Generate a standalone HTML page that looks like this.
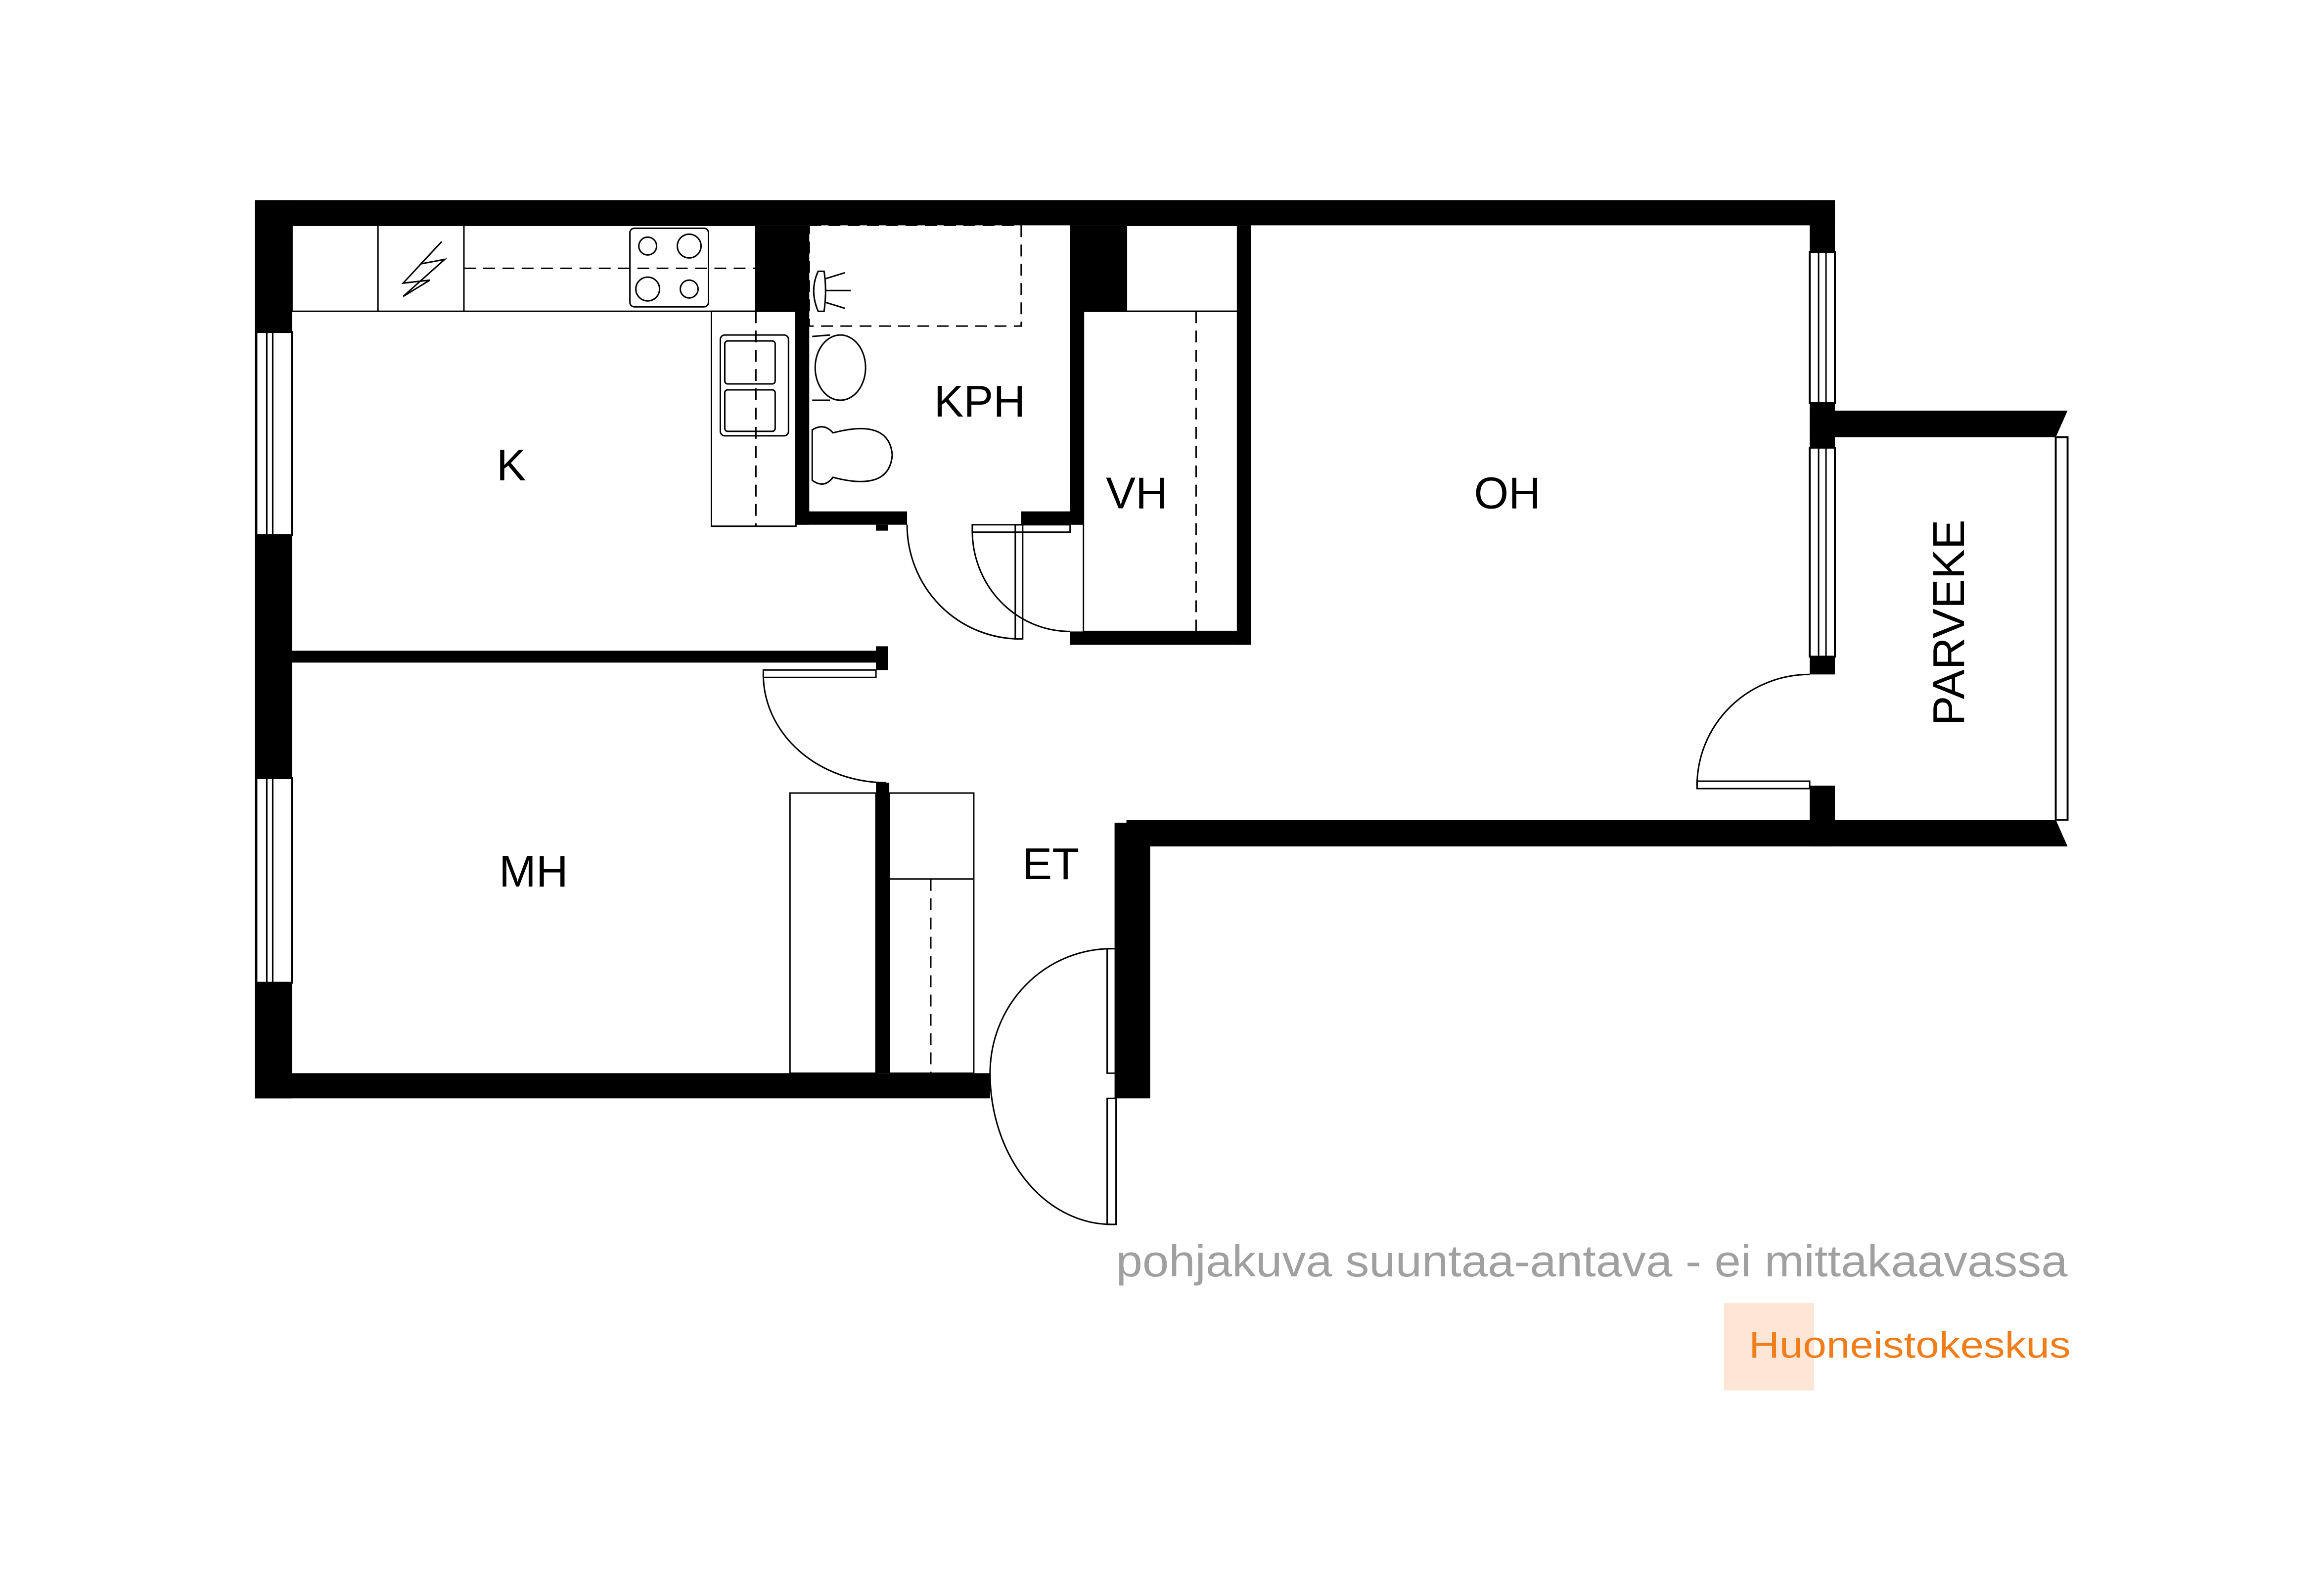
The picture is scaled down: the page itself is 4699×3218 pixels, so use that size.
<!DOCTYPE html>
<html><head><meta charset="utf-8"><style>
html,body{margin:0;padding:0;background:#fff;}
svg{display:block;}
text{font-family:"Liberation Sans",sans-serif;}
</style></head><body>
<svg width="4699" height="3218" viewBox="0 0 1568 1074" preserveAspectRatio="none" xmlns="http://www.w3.org/2000/svg">
<rect width="1568" height="1074" fill="#fff"/>
<g fill="#000">
<rect x="172" y="135" width="1066" height="17"/>
<rect x="172" y="135" width="25" height="606"/>
<rect x="172" y="724" width="496" height="17"/>
<rect x="1221" y="135" width="17" height="160"/>
<rect x="1221" y="295" width="17" height="160"/>
<rect x="1221" y="530" width="17" height="41"/>
<polygon points="1221,277 1395,277 1387,295 1221,295"/>
<polygon points="760,553 1387,553 1395,571 760,571"/>
<rect x="752" y="555" width="24" height="186"/>
<rect x="197" y="439" width="401" height="8"/>
<rect x="591" y="436" width="8" height="16"/>
<rect x="510" y="152" width="30" height="58"/>
<rect x="537" y="152" width="9" height="202"/>
<rect x="537" y="345" width="75" height="9"/>
<rect x="591" y="354" width="8" height="4"/>
<rect x="722" y="152" width="38" height="58"/>
<rect x="722" y="152" width="9" height="202"/>
<rect x="689" y="345" width="42" height="9"/>
<rect x="835" y="152" width="9" height="283"/>
<rect x="722" y="426" width="122" height="9"/>
<rect x="591" y="528" width="9" height="196"/>
</g>
<g fill="#fff" stroke="#000" stroke-width="1.3">
<rect x="173" y="224" width="24" height="137"/>
<rect x="173" y="525" width="24" height="138"/>
<rect x="1221" y="170" width="17" height="102"/>
<rect x="1221" y="302" width="17" height="141"/>
<rect x="1387" y="295" width="8" height="258"/>
</g>
<g stroke="#000" stroke-width="1" fill="none">
<line x1="180" y1="224" x2="180" y2="361"/><line x1="184" y1="224" x2="184" y2="361"/>
<line x1="180" y1="525" x2="180" y2="663"/><line x1="184" y1="525" x2="184" y2="663"/>
<line x1="1227" y1="170" x2="1227" y2="272"/><line x1="1232" y1="170" x2="1232" y2="272"/>
<line x1="1227" y1="302" x2="1227" y2="443"/><line x1="1232" y1="302" x2="1232" y2="443"/>
<rect x="197" y="152" width="313" height="58"/>
<line x1="255" y1="152" x2="255" y2="210"/><line x1="313" y1="152" x2="313" y2="210"/>
<line x1="313" y1="181" x2="510" y2="181" stroke-dasharray="8,5"/>
<rect x="425" y="154" width="53" height="53" rx="3"/>
<circle cx="437" cy="166" r="6"/><circle cx="465" cy="166" r="8"/>
<circle cx="437" cy="195" r="8"/><circle cx="465" cy="195" r="6"/>
<polyline points="298,163 272,191 290,189 272,200 300,175 284,178 298,163"/>
<rect x="480" y="210" width="57" height="145"/>
<line x1="510" y1="210" x2="510" y2="355" stroke-dasharray="8,5"/>
<rect x="486" y="226" width="46" height="68" rx="3"/>
<rect x="489" y="230" width="34" height="29" rx="2"/>
<rect x="489" y="263" width="34" height="28" rx="2"/>
<rect x="546" y="152" width="143" height="68" stroke-dasharray="8,5"/>
<path d="M552,183 Q546,196 552,210 L556,210 Q558,196 556,183 Z"/>
<line x1="557" y1="196" x2="574" y2="196"/><line x1="557" y1="188" x2="570" y2="184"/><line x1="557" y1="204" x2="570" y2="208"/>
<ellipse cx="567" cy="248" rx="17" ry="22"/>
<path d="M548,227 L560,226 M548,270 L560,270"/>
<path d="M548,290 Q556,285 562,292 Q600,282 602,307 Q600,332 562,322 Q556,330 548,324 Z"/>
<rect x="731" y="210" width="104" height="216"/>
<rect x="760" y="152" width="75" height="58"/>
<line x1="807" y1="210" x2="807" y2="426" stroke-dasharray="8,5"/>
<rect x="685" y="354" width="5" height="77"/>
<path d="M612,354 A76,77 0 0 0 688,431"/>
<rect x="656" y="354" width="66" height="5"/>
<path d="M656,358 A66,68 0 0 0 722,426"/>
<rect x="515" y="452" width="76" height="5"/>
<path d="M515,455 A83,73 0 0 0 598,528"/>
<rect x="1145" y="527" width="76" height="5"/>
<path d="M1145,530 A76,75 0 0 1 1221,455"/>
<rect x="747" y="640" width="6" height="84"/>
<rect x="747" y="741" width="6" height="85"/>
<path d="M750,640 A82,84 0 0 0 668,724 A82,102 0 0 0 750,826"/>
<rect x="533" y="535" width="58" height="189"/>
<rect x="600" y="535" width="57" height="189"/>
<line x1="600" y1="593" x2="657" y2="593"/>
<line x1="628" y1="593" x2="628" y2="724" stroke-dasharray="8,5"/>
</g>
<g fill="#000" font-size="30">
<text x="345" y="324" text-anchor="middle">K</text>
<text x="661" y="281" text-anchor="middle">KPH</text>
<text x="767" y="343" text-anchor="middle">VH</text>
<text x="1017" y="343" text-anchor="middle">OH</text>
<text x="360" y="598" text-anchor="middle">MH</text>
<text x="709" y="593" text-anchor="middle">ET</text>
<text transform="translate(1325,420) rotate(-90)" text-anchor="middle">PARVEKE</text>
</g>
<text x="753" y="861" font-size="30" fill="#a0a0a0" textLength="642" lengthAdjust="spacingAndGlyphs">pohjakuva suuntaa-antava - ei mittakaavassa</text>
<rect x="1163" y="879" width="61" height="59" fill="#fde6d5"/>
<text x="1180" y="916" font-size="25" fill="#f07d1a" textLength="217" lengthAdjust="spacingAndGlyphs">Huoneistokeskus</text>
</svg>
</body></html>
